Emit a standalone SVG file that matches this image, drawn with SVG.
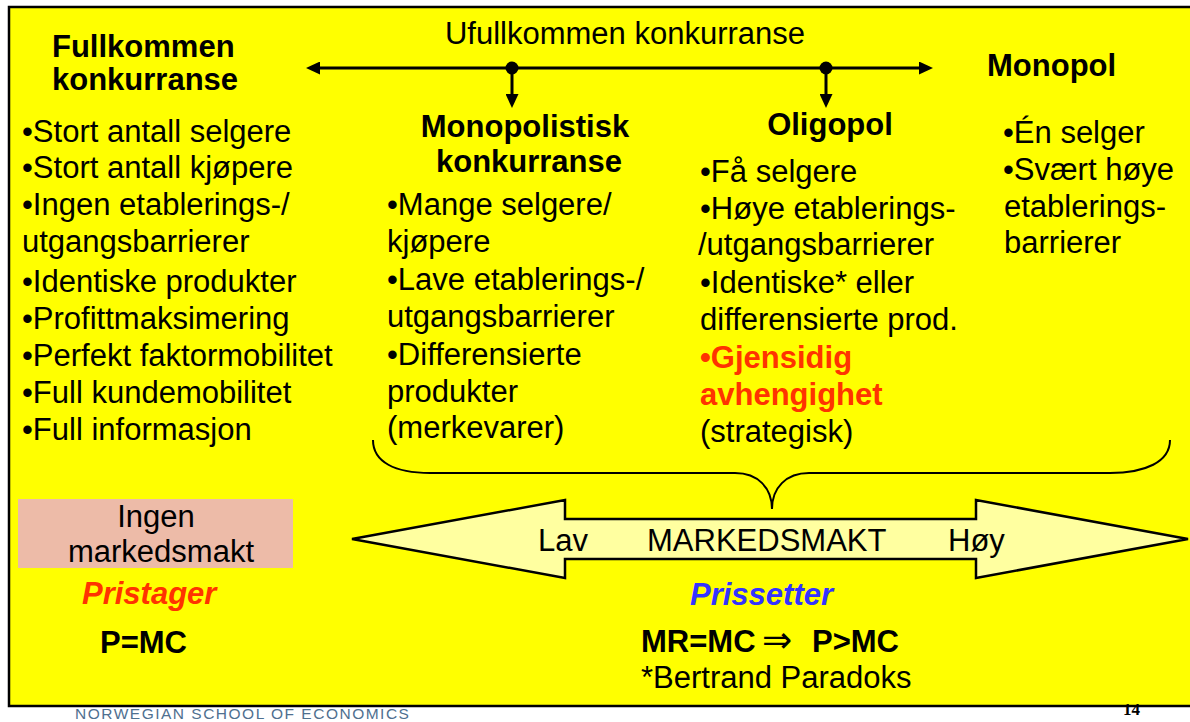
<svg xmlns="http://www.w3.org/2000/svg" width="1190" height="722" viewBox="0 0 1190 722">
<style>
text{font-family:"Liberation Sans",Arial,"DejaVu Sans",sans-serif;fill:#000}
.r{font-size:31px}
.b{font-size:31px;font-weight:bold}
.c{text-anchor:middle}
.red{fill:#FF3300}
.blue{fill:#3333FF}
.bi{font-size:31px;font-weight:bold;font-style:italic}
.ln{stroke:#000;stroke-width:3;fill:none}
</style>
<defs>
<marker id="ah" markerUnits="userSpaceOnUse" markerWidth="14" markerHeight="13" refX="6" refY="6.5" orient="auto-start-reverse" viewBox="0 0 14 13"><path d="M0,0 L14,6.5 L0,13 z" fill="#000"/></marker>
</defs>
<rect x="0" y="0" width="1190" height="722" fill="#fff"/>
<rect id="slide" x="9" y="7" width="1195" height="699" fill="#FFFF00" stroke="#000" stroke-width="2.5"/>

<g id="connectors">
<line class="ln" x1="314" y1="68" x2="925" y2="68" marker-start="url(#ah)" marker-end="url(#ah)"/>
<line class="ln" x1="512" y1="68" x2="512" y2="100" marker-end="url(#ah)"/>
<line class="ln" x1="826" y1="68" x2="826" y2="100" marker-end="url(#ah)"/>
<circle cx="512" cy="68" r="6.5" fill="#000"/>
<circle cx="826" cy="68" r="6.5" fill="#000"/>
</g>

<g id="ufullkommen">
<text class="r c" x="625" y="44">Ufullkommen konkurranse</text>
</g>

<g id="fullkommen">
<text class="b" x="52" y="57">Fullkommen</text>
<text class="b" x="52" y="90">konkurranse</text>
<text class="r" x="22" y="142">•Stort antall selgere</text>
<text class="r" x="22" y="178">•Stort antall kjøpere</text>
<text class="r" x="22" y="215">•Ingen etablerings-/</text>
<text class="r" x="22" y="252">utgangsbarrierer</text>
<text class="r" x="22" y="292">•Identiske produkter</text>
<text class="r" x="22" y="329">•Profittmaksimering</text>
<text class="r" x="22" y="366">•Perfekt faktormobilitet</text>
<text class="r" x="22" y="403">•Full kundemobilitet</text>
<text class="r" x="22" y="440">•Full informasjon</text>
</g>

<g id="monopolistisk">
<text class="b c" x="525" y="137">Monopolistisk</text>
<text class="b c" x="529" y="172">konkurranse</text>
<text class="r" x="387" y="215">•Mange selgere/</text>
<text class="r" x="387" y="252">kjøpere</text>
<text class="r" x="387" y="290">•Lave etablerings-/</text>
<text class="r" x="387" y="327">utgangsbarrierer</text>
<text class="r" x="387" y="365">•Differensierte</text>
<text class="r" x="387" y="402">produkter</text>
<text class="r" x="387" y="438">(merkevarer)</text>
</g>

<g id="oligopol">
<text class="b c" x="830" y="135">Oligopol</text>
<text class="r" x="700" y="182">•Få selgere</text>
<text class="r" x="700" y="219">•Høye etablerings-</text>
<text class="r" x="698" y="255">/utgangsbarrierer</text>
<text class="r" x="700" y="293">•Identiske* eller</text>
<text class="r" x="700" y="330">differensierte prod.</text>
<text class="b red" x="700" y="368">•Gjensidig</text>
<text class="b red" x="700" y="405">avhengighet</text>
<text class="r" x="700" y="442">(strategisk)</text>
</g>

<g id="monopol">
<text class="b" x="987" y="76">Monopol</text>
<text class="r" x="1003" y="143">•Én selger</text>
<text class="r" x="1003" y="180">•Svært høye</text>
<text class="r" x="1004" y="217">etablerings-</text>
<text class="r" x="1004" y="253">barrierer</text>
</g>

<g id="brace">
<path d="M373,440 C373,462 395,473 430,473 L735,473 C758,473 772,488 772,509 C772,488 786,473 809,473 L1110,473 C1145,473 1170,462 1170,440" fill="none" stroke="#000" stroke-width="2"/>
</g>

<g id="markedsmakt-arrow">
<polygon points="352,539 565,500 565,519 976,519 976,500 1188,539 976,578 976,559 565,559 565,578" fill="#FFFFA0" stroke="#000" stroke-width="2.5" stroke-linejoin="miter"/>
<text class="r" x="538" y="551">Lav</text>
<text class="r" x="647" y="551">MARKEDSMAKT</text>
<text class="r" x="948" y="551">Høy</text>
</g>

<g id="ingen-markedsmakt">
<rect x="18" y="499" width="275" height="69" fill="#EDBBA8"/>
<text class="r c" x="156" y="527">Ingen</text>
<text class="r c" x="161" y="562">markedsmakt</text>
</g>

<g id="pristager">
<text class="bi red" x="82" y="604">Pristager</text>
<text class="b" x="100" y="653">P=MC</text>
</g>

<g id="prissetter">
<text class="bi blue" x="690" y="605">Prissetter</text>
<text class="b" x="641" y="652">MR=MC <tspan x="762" font-weight="normal" font-family="DejaVu Sans, sans-serif" font-size="36">⇒</tspan><tspan x="812">P&gt;MC</tspan></text>
<text class="r" x="641" y="688">*Bertrand Paradoks</text>
</g>

<g id="footer">
<text x="75" y="719" style="font-size:15.5px;fill:#4F7090;letter-spacing:1.5px">NORWEGIAN SCHOOL OF ECONOMICS</text>
<text x="1123" y="715" style="font-family:'Liberation Serif',serif;font-size:17px;font-weight:bold">14</text>
</g>
</svg>
